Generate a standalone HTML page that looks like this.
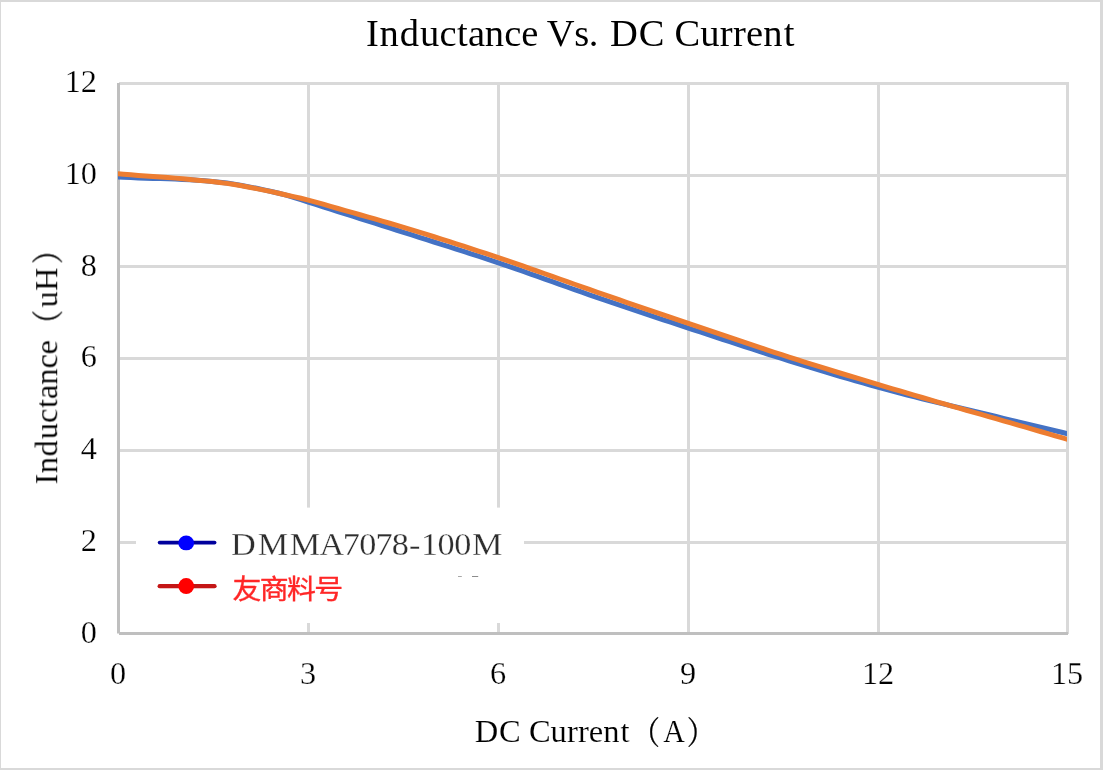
<!DOCTYPE html>
<html lang="zh">
<head>
<meta charset="utf-8">
<title>Inductance Vs. DC Current</title>
<style>
html,body{margin:0;padding:0;background:#fff;}
body{width:1103px;height:770px;overflow:hidden;position:relative;}
#chart{position:absolute;left:0;top:0;width:1103px;height:770px;box-sizing:border-box;
 border-style:solid;border-color:#d9d9d9;border-width:2px 3px 2px 1px;background:#fff;}
svg{position:absolute;left:0;top:0;display:block;}
text{font-family:"Liberation Serif","Noto Serif CJK SC",serif;fill:#000;stroke:#fff;stroke-width:0.25px;paint-order:fill stroke;}
.tick text{font-size:32.3px;}
#title{stroke:none;}
#xt,#yt{stroke-width:0.12px;}
.grid line{stroke:#d9d9d9;stroke-width:3;}
.axis line{stroke:#bfbfbf;stroke-width:3;}
.series path{fill:none;stroke-width:5;stroke-linejoin:round;}
</style>
</head>
<body>
<div id="chart"></div>
<svg width="1103" height="770" viewBox="0 0 1103 770">
<defs><filter id="soft" x="-5%" y="-20%" width="110%" height="140%"><feGaussianBlur stdDeviation="0.35"/></filter><clipPath id="plot"><rect x="118" y="80" width="949" height="556"/></clipPath></defs>
<g class="grid">
<line x1="308.5" y1="82" x2="308.5" y2="634"/>
<line x1="498.5" y1="82" x2="498.5" y2="634"/>
<line x1="688.5" y1="82" x2="688.5" y2="634"/>
<line x1="878.5" y1="82" x2="878.5" y2="634"/>
<line x1="1067.5" y1="82" x2="1067.5" y2="634"/>
<line x1="119" y1="83.5" x2="1069" y2="83.5"/>
<line x1="119" y1="175.5" x2="1069" y2="175.5"/>
<line x1="119" y1="266.5" x2="1069" y2="266.5"/>
<line x1="119" y1="358.5" x2="1069" y2="358.5"/>
<line x1="119" y1="450.5" x2="1069" y2="450.5"/>
<line x1="119" y1="542.5" x2="1069" y2="542.5"/>
</g>
<g class="axis">
<line x1="118.5" y1="83" x2="118.5" y2="633.5"/>
<line x1="119" y1="633.5" x2="1068" y2="633.5"/>
</g>
<g class="series" clip-path="url(#plot)">
<path stroke="#4472c4" d="M116.0,176.80 L123.4,177.17 L130.8,177.56 L138.2,177.92 L145.6,178.22 L153.0,178.44 L160.4,178.62 L167.8,178.82 L175.2,179.10 L182.6,179.42 L190.0,179.79 L197.3,180.23 L204.7,180.74 L212.1,181.39 L219.5,182.16 L226.9,183.05 L234.3,184.14 L241.7,185.43 L249.1,186.84 L256.5,188.30 L263.9,189.84 L271.3,191.50 L278.7,193.28 L286.1,195.19 L293.5,197.36 L300.9,199.72 L308.3,202.09 L315.7,204.43 L323.1,206.79 L330.5,209.16 L337.9,211.52 L345.3,213.87 L352.7,216.21 L360.0,218.55 L367.4,220.88 L374.8,223.22 L382.2,225.56 L389.6,227.90 L397.0,230.25 L404.4,232.61 L411.8,234.96 L419.2,237.31 L426.6,239.65 L434.0,242.00 L441.4,244.35 L448.8,246.70 L456.2,249.07 L463.6,251.44 L471.0,253.83 L478.4,256.24 L485.8,258.67 L493.2,261.11 L500.6,263.59 L508.0,266.09 L515.3,268.64 L522.7,271.21 L530.1,273.81 L537.5,276.43 L544.9,279.06 L552.3,281.70 L559.7,284.34 L567.1,286.98 L574.5,289.60 L581.9,292.21 L589.3,294.80 L596.7,297.37 L604.1,299.90 L611.5,302.42 L618.9,304.93 L626.3,307.42 L633.7,309.91 L641.1,312.39 L648.5,314.86 L655.9,317.32 L663.3,319.78 L670.7,322.23 L678.0,324.67 L685.4,327.11 L692.8,329.55 L700.2,331.98 L707.6,334.41 L715.0,336.84 L722.4,339.28 L729.8,341.72 L737.2,344.15 L744.6,346.57 L752.0,348.99 L759.4,351.39 L766.8,353.77 L774.2,356.14 L781.6,358.48 L789.0,360.80 L796.4,363.09 L803.8,365.35 L811.2,367.60 L818.6,369.85 L826.0,372.08 L833.3,374.30 L840.7,376.50 L848.1,378.68 L855.5,380.84 L862.9,382.97 L870.3,385.08 L877.7,387.16 L885.1,389.20 L892.5,391.21 L899.9,393.18 L907.3,395.09 L914.7,396.95 L922.1,398.76 L929.5,400.55 L936.9,402.32 L944.3,404.10 L951.7,405.89 L959.1,407.68 L966.5,409.46 L973.9,411.24 L981.3,413.01 L988.7,414.78 L996.0,416.55 L1003.4,418.33 L1010.8,420.10 L1018.2,421.88 L1025.6,423.65 L1033.0,425.43 L1040.4,427.20 L1047.8,428.98 L1055.2,430.75 L1062.6,432.53 L1070.0,434.30"/>
<path stroke="#ed7d31" d="M116.0,173.60 L123.4,174.27 L130.8,174.85 L138.2,175.40 L145.6,175.94 L153.0,176.47 L160.4,176.98 L167.8,177.53 L175.2,178.12 L182.6,178.76 L190.0,179.44 L197.3,180.14 L204.7,180.87 L212.1,181.61 L219.5,182.42 L226.9,183.36 L234.3,184.50 L241.7,185.79 L249.1,187.17 L256.5,188.59 L263.9,190.09 L271.3,191.67 L278.7,193.30 L286.1,194.94 L293.5,196.59 L300.9,198.29 L308.3,200.09 L315.7,202.06 L323.1,204.16 L330.5,206.33 L337.9,208.49 L345.3,210.59 L352.7,212.69 L360.0,214.77 L367.4,216.86 L374.8,218.96 L382.2,221.08 L389.6,223.23 L397.0,225.41 L404.4,227.63 L411.8,229.88 L419.2,232.15 L426.6,234.45 L434.0,236.76 L441.4,239.10 L448.8,241.45 L456.2,243.82 L463.6,246.21 L471.0,248.62 L478.4,251.04 L485.8,253.47 L493.2,255.92 L500.6,258.39 L508.0,260.88 L515.3,263.40 L522.7,265.96 L530.1,268.54 L537.5,271.14 L544.9,273.75 L552.3,276.37 L559.7,279.00 L567.1,281.63 L574.5,284.26 L581.9,286.87 L589.3,289.47 L596.7,292.05 L604.1,294.62 L611.5,297.17 L618.9,299.72 L626.3,302.27 L633.7,304.81 L641.1,307.35 L648.5,309.89 L655.9,312.42 L663.3,314.94 L670.7,317.46 L678.0,319.97 L685.4,322.48 L692.8,324.98 L700.2,327.48 L707.6,329.97 L715.0,332.47 L722.4,334.97 L729.8,337.46 L737.2,339.95 L744.6,342.44 L752.0,344.91 L759.4,347.38 L766.8,349.83 L774.2,352.26 L781.6,354.68 L789.0,357.07 L796.4,359.45 L803.8,361.79 L811.2,364.12 L818.6,366.43 L826.0,368.72 L833.3,370.99 L840.7,373.25 L848.1,375.49 L855.5,377.73 L862.9,379.95 L870.3,382.16 L877.7,384.37 L885.1,386.58 L892.5,388.78 L899.9,390.97 L907.3,393.16 L914.7,395.34 L922.1,397.50 L929.5,399.65 L936.9,401.79 L944.3,403.93 L951.7,406.06 L959.1,408.17 L966.5,410.27 L973.9,412.37 L981.3,414.46 L988.7,416.56 L996.0,418.67 L1003.4,420.79 L1010.8,422.92 L1018.2,425.06 L1025.6,427.21 L1033.0,429.35 L1040.4,431.51 L1047.8,433.66 L1055.2,435.82 L1062.6,437.97 L1070.0,440.13"/>
</g>
<rect x="136" y="507.6" width="388" height="115.4" fill="#fff"/>
<g class="legend" filter="url(#soft)">
<line x1="159.7" y1="542.6" x2="214.5" y2="542.6" stroke="#00009c" stroke-width="3.9" stroke-linecap="round"/>
<ellipse cx="186.2" cy="542.9" rx="7.9" ry="7.4" fill="#0000ff"/>
<text transform="translate(0,554.6) scale(1.05,1)" x="219.98 245.56 276.05 304.31 326.41 342.07 357.56 373.08 389.51 400.89 416.77 432.54 449.44" font-size="32.6" style="fill:#2e2e2e">DMMA7078-100M</text>
<line x1="159.7" y1="586.2" x2="214.5" y2="586.2" stroke="#c41414" stroke-width="4.3" stroke-linecap="round"/>
<ellipse cx="186.2" cy="586.1" rx="7.9" ry="8" fill="#ff0000"/>
<text transform="translate(232.6,598.5) scale(1.06,1)" font-size="27.3" letter-spacing="-1.65" style="fill:#ff2626;stroke:#ff2626;stroke-width:0.35px;font-family:'Liberation Sans','Noto Sans CJK SC',sans-serif">友商料号</text>
<rect x="458" y="576" width="3.8" height="1" fill="#a8a8a8"/>
<rect x="472" y="576" width="6.2" height="1" fill="#8c8c8c"/>
</g>
<g class="tick">
<text x="97" y="91.6" text-anchor="end">12</text>
<text x="97" y="183.9" text-anchor="end">10</text>
<text x="97" y="276.0" text-anchor="end">8</text>
<text x="97" y="367.1" text-anchor="end">6</text>
<text x="97" y="458.8" text-anchor="end">4</text>
<text x="97" y="550.7" text-anchor="end">2</text>
<text x="97" y="642.9" text-anchor="end">0</text>
<text x="118.1" y="684.1" text-anchor="middle">0</text>
<text x="308.1" y="683.7" text-anchor="middle">3</text>
<text x="498.1" y="684.1" text-anchor="middle">6</text>
<text x="688.1" y="684.0" text-anchor="middle">9</text>
<text x="878.1" y="683.7" text-anchor="middle">12</text>
<text x="1067.1" y="683.7" text-anchor="middle">15</text>
</g>
<text id="title" x="365.92 379.58 399.68 420.09 439.39 457.12 468.11 484.77 504.17 521.17 538.26 546.86 574.24 588.78 598.40 609.93 638.75 664.44 674.51 700.21 719.70 732.90 746.07 763.29 783.78" y="46.3" font-size="38.5">Inductance Vs. DC Current</text>
<text id="xt" x="474.86 499.01 520.70 528.97 550.51 566.97 577.89 588.76 603.24 620.53" y="742.2" font-size="32.5">DC Current<tspan x="631.65" dy="2" font-size="32" textLength="28.3" lengthAdjust="spacingAndGlyphs" style="stroke:#000;stroke-width:0.25px">（</tspan><tspan x="663.17" dy="-2" textLength="21.65" lengthAdjust="spacingAndGlyphs">A</tspan><tspan x="686.8" dy="2" font-size="32" textLength="28.3" lengthAdjust="spacingAndGlyphs" style="stroke:#000;stroke-width:0.25px">）</tspan></text>
<text id="yt" transform="translate(57.2,484.5) rotate(-90)" x="-0.09 11.20 27.91 45.15 61.57 76.57 85.60 99.65 115.94 130.11" y="0" font-size="32.5">Inductance<tspan x="146.35" dy="2" font-size="32" textLength="28.3" lengthAdjust="spacingAndGlyphs" style="stroke:#000;stroke-width:0.25px">（</tspan><tspan x="177.11 193.52" dy="-2">uH</tspan><tspan x="220.50" dy="2" font-size="32" textLength="28.3" lengthAdjust="spacingAndGlyphs" style="stroke:#000;stroke-width:0.25px">）</tspan></text>
</svg>
</body>
</html>
